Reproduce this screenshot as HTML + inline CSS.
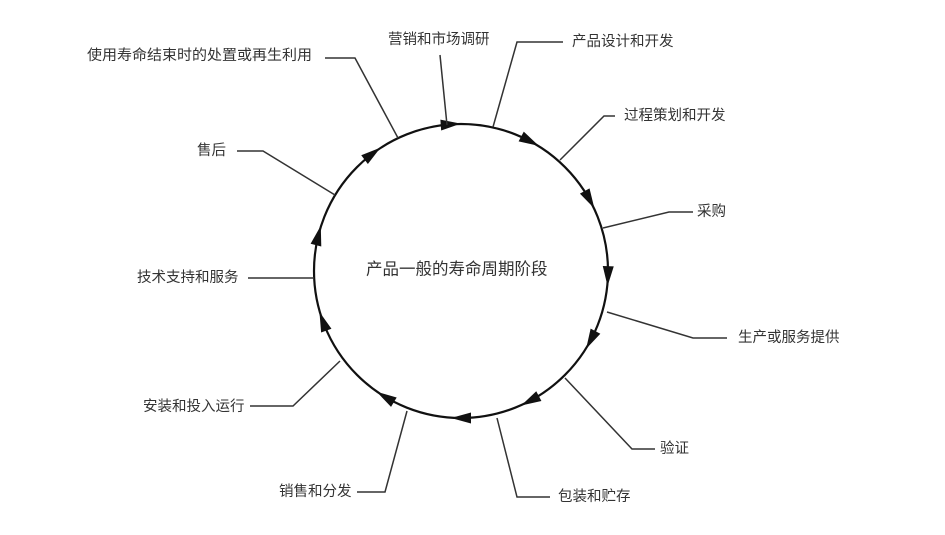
<!DOCTYPE html>
<html><head><meta charset="utf-8"><style>
html,body{margin:0;padding:0;background:#fff;}
svg{display:block;}
text{font-family:"Liberation Sans","Noto Sans CJK SC",sans-serif;font-size:14.5px;fill:#333;dominant-baseline:middle;}
</style></head><body>
<svg width="945" height="535" viewBox="0 0 945 535">
<rect width="945" height="535" fill="#fff"/>
<circle cx="461" cy="271" r="147" fill="none" stroke="#111" stroke-width="2.2"/>
<g fill="#111">
<polygon points="451,118.5 471,124 451,129.5" transform="rotate(-4 461 271)"/>
<polygon points="451,118.5 471,124 451,129.5" transform="rotate(28 461 271)"/>
<polygon points="451,118.5 471,124 451,129.5" transform="rotate(61 461 271)"/>
<polygon points="451,118.5 471,124 451,129.5" transform="rotate(92 461 271)"/>
<polygon points="451,118.5 471,124 451,129.5" transform="rotate(118 461 271)"/>
<polygon points="451,118.5 471,124 451,129.5" transform="rotate(152 461 271)"/>
<polygon points="451,118.5 471,124 451,129.5" transform="rotate(180 461 271)"/>
<polygon points="451,118.5 471,124 451,129.5" transform="rotate(211 461 271)"/>
<polygon points="451,118.5 471,124 451,129.5" transform="rotate(250 461 271)"/>
<polygon points="451,118.5 471,124 451,129.5" transform="rotate(284 461 271)"/>
<polygon points="451,118.5 471,124 451,129.5" transform="rotate(323 461 271)"/>
</g>
<g fill="none" stroke="#333" stroke-width="1.5">
<polyline points="440,55 447,125"/>
<polyline points="563,42 517,42 493,127"/>
<polyline points="615,116 604,116 560,160"/>
<polyline points="693,212 669,212 603,228"/>
<polyline points="607,312 693,338 727,338"/>
<polyline points="565,378 632,449 655,449"/>
<polyline points="497,418 517,497 550,497"/>
<polyline points="407,411 385,492 357,492"/>
<polyline points="340,361 293,406 250,406"/>
<polyline points="314,278 248,278"/>
<polyline points="335,195 263,151 237,151"/>
<polyline points="398,138 355,58 325,58"/>
</g>
<text x="388" y="40">营销和市场调研</text>
<text x="572" y="42">产品设计和开发</text>
<text x="624" y="116">过程策划和开发</text>
<text x="697" y="212">采购</text>
<text x="738" y="338">生产或服务提供</text>
<text x="660" y="449">验证</text>
<text x="558" y="497">包装和贮存</text>
<text x="279" y="492">销售和分发</text>
<text x="143" y="407">安装和投入运行</text>
<text x="137" y="278">技术支持和服务</text>
<text x="197" y="151">售后</text>
<text x="87" y="56" textLength="225" lengthAdjust="spacingAndGlyphs">使用寿命结束时的处置或再生利用</text>
<text x="366" y="270" style="font-size:16.5px">产品一般的寿命周期阶段</text>
</svg>
</body></html>
